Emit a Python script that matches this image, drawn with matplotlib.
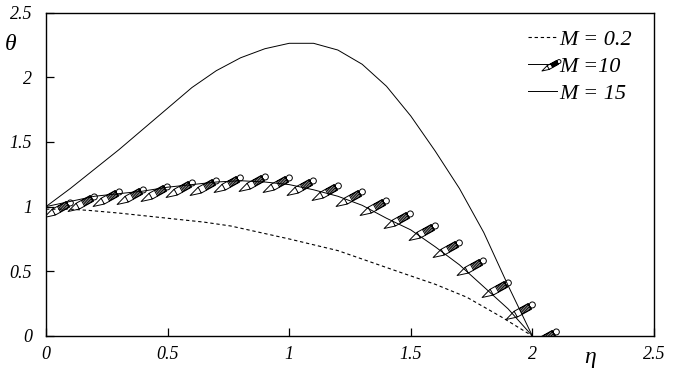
import numpy as np
from matplotlib import pyplot as plt
from matplotlib.path import Path

eta_02 = [0, 0.1, 0.18, 0.3, 0.5, 0.65, 0.76, 1.0, 1.2, 1.46, 1.6, 1.73, 1.87, 2.0]
theta_02 = [0.98, 0.98, 0.97, 0.95, 0.91, 0.88, 0.85, 0.75, 0.66, 0.49, 0.40, 0.30, 0.15, 0.0]

eta_10 = [0, 0.1, 0.2, 0.3, 0.4, 0.5, 0.6, 0.7, 0.8, 0.9, 1.0,
          1.1, 1.2, 1.3, 1.4, 1.5, 1.6, 1.7, 1.8, 1.9, 2.0]
theta_10 = [1.0, 1.04, 1.08, 1.10, 1.12, 1.15, 1.17, 1.19, 1.20, 1.19, 1.17,
            1.13, 1.08, 1.01, 0.91, 0.82, 0.69, 0.55, 0.38, 0.21, 0.0]

eta_15 = [0, 0.1, 0.2, 0.3, 0.4, 0.5, 0.6, 0.7, 0.8, 0.9, 1.0, 1.1,
          1.2, 1.3, 1.4, 1.5, 1.6, 1.7, 1.8, 1.9, 2.0]
theta_15 = [1.0, 1.14, 1.29, 1.44, 1.60, 1.76, 1.92, 2.05, 2.15, 2.22, 2.262, 2.262,
            2.21, 2.10, 1.93, 1.70, 1.43, 1.14, 0.80, 0.39, 0.0]

labels = ['M = 0.2', 'M =10', 'M = 15']
ticks = [0, 0.5, 1, 1.5, 2, 2.5]
tick_labels = ['0', '0.5', '1', '1.5', '2', '2.5']


def pencil_marker():
    # pencil shape in pixel units, data point at the origin (y up)
    a = np.deg2rad(29)
    d = np.array([np.cos(a), np.sin(a)])
    n = np.array([-np.sin(a), np.cos(a)])
    tip = np.array([-2.4, -10.0])
    w = 3.3

    def p(u, v):
        return tip + u * d + v * n

    parts = []
    outline = [p(0, 0), p(11, w), p(27, w), p(27, -w), p(11, -w), p(0, 0)]
    parts.append(Path(outline, [Path.MOVETO] + [Path.LINETO] * 4 + [Path.CLOSEPOLY]))
    for u in [11] + list(np.arange(17, 27.1, 1.4)):
        parts.append(Path([p(u, -w), p(u, w)], [Path.MOVETO, Path.LINETO]))
    circ = Path.circle(center=p(30, 0), radius=3.0)
    parts.append(circ)
    path = Path.make_compound_path(*parts)
    size = 2 * np.abs(path.vertices).max() * 72 / 100
    return path, size


plt.rcParams['font.family'] = ['Liberation Serif', 'DejaVu Serif']
fig = plt.figure(figsize=(6.73, 3.81), dpi=100)
ax = fig.add_axes([46 / 673, 1 - 336 / 381, 608 / 673, 323.5 / 381])

pencil, ms = pencil_marker()

ax.plot(eta_02, theta_02, color='black', lw=0.8, ls=(0, (3, 2.5)), label=labels[0])
ax.plot(eta_10, theta_10, color='black', lw=0.7, marker=pencil, markersize=ms,
        markerfacecolor='none', markeredgecolor='black', markeredgewidth=0.7,
        label=labels[1])
ax.plot(eta_15, theta_15, color='black', lw=0.7, label=labels[2])

ax.set_xlim(0, 2.5)
ax.set_ylim(0, 2.5)
ax.set_xticks(ticks)
ax.set_yticks(ticks)
ax.set_xticklabels(tick_labels, fontstyle='italic', fontsize=13)
ax.set_yticklabels(tick_labels, fontstyle='italic', fontsize=13)
ax.tick_params(direction='in', length=6, width=0.9, top=False, right=False)
ax.tick_params(axis='x', pad=7)
ax.tick_params(axis='y', pad=10)
for s in ax.spines.values():
    s.set_linewidth(1.0)

fig.text(11 / 673, 1 - 45 / 381, 'θ', fontsize=17, fontstyle='italic', ha='center', va='center')
fig.text(590 / 673, 1 - 358 / 381, 'η', fontsize=17, fontstyle='italic', ha='center', va='center')

leg = ax.legend(loc='upper left', bbox_to_anchor=(517 / 673, 1 - 18 / 381),
                bbox_transform=fig.transFigure, frameon=False, borderpad=0,
                handlelength=1.3, handletextpad=0.1, labelspacing=0.3,
                markerscale=0.65, prop={'style': 'italic', 'size': 16})

fig.savefig('out.png', dpi=100)
